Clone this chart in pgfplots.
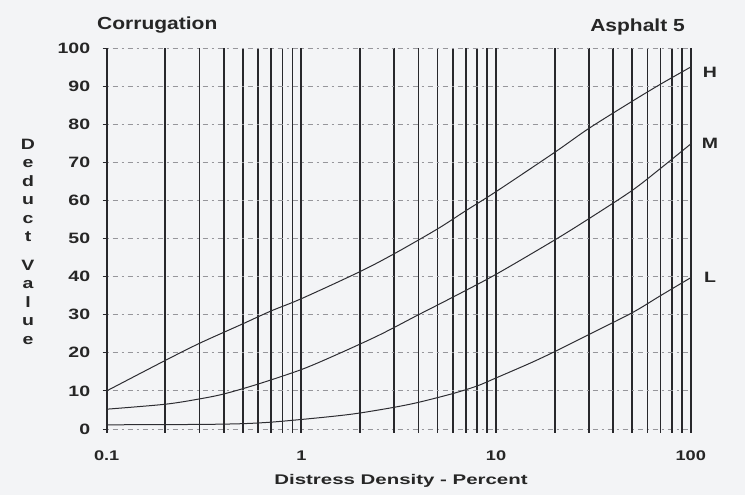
\documentclass[border=0pt]{standalone}
\usepackage{pgfplots}
\pgfplotsset{compat=1.18}
\usepackage{fontspec}
\newfontfamily\tickfont{Liberation Sans}[FakeStretch=1.3]
\newfontfamily\labfont{Liberation Sans}[FakeStretch=1.46]
\newfontfamily\titfont{Liberation Sans}[FakeStretch=1.2]
\definecolor{paper}{RGB}{243,244,246}
\definecolor{curve}{RGB}{45,45,50}
\definecolor{hgrid}{RGB}{150,150,155}
\definecolor{vgrid}{RGB}{40,40,44}
\begin{document}
\begin{tikzpicture}
\path[use as bounding box, fill=paper] (-106.7pt,-66pt) rectangle (638.3pt,429pt);
\begin{axis}[
  at={(0pt,0pt)}, anchor=south west,
  scale only axis, width=584pt, height=381pt,
  xmode=log, xmin=0.1, xmax=100, ymin=0, ymax=100,
  log basis x=10,
  xtick={0.1,1,10,100}, xticklabels={0.1,1,10,100},
  minor xtick={0.2,0.3,0.4,0.5,0.6,0.7,0.8,0.9,2,3,4,5,6,7,8,9,20,30,40,50,60,70,80,90},
  ytick={0,10,...,100},
  /pgf/number format/assume math mode=true,
  xmajorgrids, xminorgrids, ymajorgrids,
  major x grid style={vgrid, line width=1.8pt},
  minor x grid style={vgrid, line width=1.8pt},
  major y grid style={hgrid, line width=0.8pt, dash pattern=on 2pt off 4pt on 5pt off 4pt},
  axis x line=bottom, axis y line=left,
  x axis line style={draw=none},
  y axis line style={vgrid, line width=1.8pt, -},
  tick align=outside,
  major tick length=4pt, minor tick length=4pt,
  xtick style={vgrid, line width=1.8pt},
  ytick style={vgrid, line width=0.8pt},
  xticklabel style={font=\tickfont\bfseries\fontsize{14pt}{14pt}\selectfont, text=black!85, yshift=-14pt},
  yticklabel style={font=\tickfont\bfseries\fontsize{15pt}{15pt}\selectfont, text=black!85, xshift=-9pt},
  clip=false,
]
\addplot[curve, line width=1pt, smooth] coordinates {
 (0.1,10) (0.2,18) (0.3,22.5) (0.5,27.6) (0.7,31) (1,34.2) (2,41.3) (3,46)
 (5,52.5) (7,57.3) (10,62.3) (20,72.6) (30,78.9) (50,86) (70,90.5) (100,95)};
\addplot[curve, line width=1pt, smooth] coordinates {
 (0.1,5.2) (0.2,6.5) (0.3,7.9) (0.4,9.2) (0.6,11.8) (1,15.6) (1.5,19.4) (2.5,24.6)
 (4,30.0) (6,34.6) (10,40.6) (20,49.6) (30,55.2) (50,62.6) (70,68.4) (100,74.8)};
\addplot[curve, line width=1pt, smooth] coordinates {
 (0.1,1.1) (0.3,1.2) (0.5,1.4) (0.7,1.8) (1,2.5) (1.5,3.4) (2,4.2)
 (3,5.7) (4,7) (6,9.3) (8,11.3) (10,13.4) (15,17.3) (20,20.3) (30,24.8) (50,30.5)
 (70,35) (100,39.7)};
\end{axis}
\node[anchor=base west, inner sep=0, font=\titfont\bfseries\fontsize{17.5pt}{17.5pt}\selectfont, text=black!85] at (-9.7pt,399pt) {Corrugation};
\node[anchor=base east, inner sep=0, font=\titfont\bfseries\fontsize{17.5pt}{17.5pt}\selectfont, text=black!85] at (578.3pt,397pt) {Asphalt 5};
\node[anchor=base, inner sep=0, font=\labfont\bfseries\fontsize{14pt}{14pt}\selectfont, text=black!85] at (294.3pt,-56pt) {Distress Density - Percent};
\node[anchor=center, inner sep=0, align=center, font=\tickfont\bfseries\fontsize{15pt}{18.5pt}\selectfont, text=black!85] at (-78.7pt,187.5pt) {D\\e\\d\\u\\c\\t\\[10pt]V\\a\\l\\u\\e};
\node[anchor=center, font=\tickfont\bfseries\fontsize{15pt}{15pt}\selectfont, text=black!85] at (603.3pt,357pt) {H};
\node[anchor=center, font=\tickfont\bfseries\fontsize{15pt}{15pt}\selectfont, text=black!85] at (603.3pt,286pt) {M};
\node[anchor=center, font=\tickfont\bfseries\fontsize{15pt}{15pt}\selectfont, text=black!85] at (603.3pt,152pt) {L};
\end{tikzpicture}
\end{document}
